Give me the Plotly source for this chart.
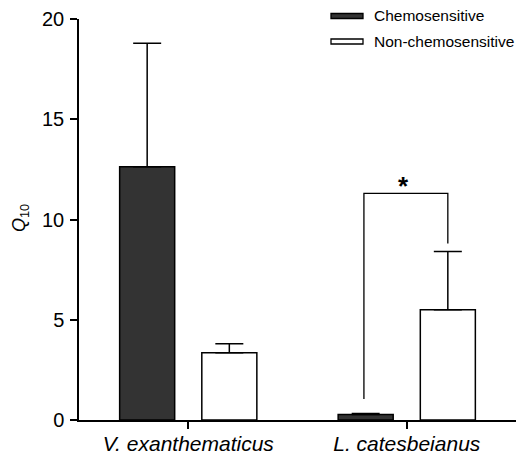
import plotly.graph_objects as go

categories = ["V. exanthematicus", "L. catesbeianus"]
series_names = ["Chemosensitive", "Non-chemosensitive"]
chemo_vals = [12.63, 0.27]
chemo_err = [6.16, 0.06]
nonchemo_vals = [3.36, 5.5]
nonchemo_err = [0.44, 2.9]
y_ticks = [0, 5, 10, 15, 20]
# significance bracket for L. catesbeianus: (left end, top, right end)
bracket_left_y = 1.05
bracket_top_y = 11.3
bracket_right_y = 8.8
bracket_label = "*"

PAGE_OFF = 8  # browser default body margin
W, H = 526 - PAGE_OFF, 455 - PAGE_OFF
# desired plot area in screen pixels: x 79..516, y 19..420
L, T = 79 - PAGE_OFF, 19 - PAGE_OFF
R = W - (516 - PAGE_OFF)
B = H - (420 - PAGE_OFF)
pw, ph = W - L - R, H - T - B

def px2paper(sx, sy):
    x = sx - PAGE_OFF
    y = sy - PAGE_OFF
    return (x - L) / pw, (H - B - y) / ph

xs = list(range(len(categories)))
fig = go.Figure()
fig.add_trace(go.Bar(
    x=xs, y=chemo_vals, name=series_names[0],
    marker=dict(color="#333333", line=dict(color="black", width=1.5)),
    error_y=dict(type="data", array=chemo_err, arrayminus=[0] * len(xs), symmetric=False,
                 color="black", thickness=1.5, width=14),
    showlegend=False,
))
fig.add_trace(go.Bar(
    x=xs, y=nonchemo_vals, name=series_names[1],
    marker=dict(color="white", line=dict(color="black", width=1.5)),
    error_y=dict(type="data", array=nonchemo_err, arrayminus=[0] * len(xs), symmetric=False,
                 color="black", thickness=1.5, width=14),
    showlegend=False,
))

# bracket
bargap, bargroupgap = 0.248, 0.33
slot = (1 - bargap) / 2
off = slot / 2
cx = xs[1]
bx_left = cx - off - 0.008
bx_right = cx + off
fig.add_trace(go.Scatter(
    x=[bx_left, bx_left, bx_right, bx_right],
    y=[bracket_left_y, bracket_top_y, bracket_top_y, bracket_right_y],
    mode="lines", line=dict(color="black", width=1.3), showlegend=False, hoverinfo="skip",
))
fig.add_annotation(x=(bx_left + bx_right) / 2, y=bracket_top_y, text=f"<b>{bracket_label}</b>",
                   showarrow=False, yanchor="bottom", yshift=-10, xshift=-2,
                   font=dict(size=26, color="black", family="Liberation Sans, Arial"))

# custom legend
shapes = []
legend_rows = [(16, "#333333"), (41.5, "white")]
for (yc, col), name in zip(legend_rows, series_names):
    x0, y0 = px2paper(331, yc - 2.5)
    x1, y1 = px2paper(363, yc + 2.5)
    shapes.append(dict(type="rect", xref="paper", yref="paper", x0=x0, x1=x1, y0=y1, y1=y0,
                       fillcolor=col, line=dict(color="black", width=1.3)))
    tx, ty = px2paper(372, yc)
    fig.add_annotation(xref="paper", yref="paper", x=tx, y=ty, text=name, showarrow=False,
                       xanchor="left", yanchor="middle",
                       font=dict(size=15.5, color="black", family="Liberation Sans, Arial"))

# y title
ax, ay = px2paper(21, 218)
fig.add_annotation(xref="paper", yref="paper", x=ax, y=ay, text="<i>Q</i><sub>10</sub>",
                   textangle=-90, showarrow=False, xanchor="center", yanchor="middle",
                   font=dict(size=18, color="black", family="Liberation Sans, Arial"))

fig.update_layout(
    width=W, height=H, margin=dict(l=L, r=R, t=T, b=B, autoexpand=False),
    autosize=False,
    paper_bgcolor="white", plot_bgcolor="white",
    barmode="group", bargap=bargap, bargroupgap=bargroupgap,
    shapes=shapes, showlegend=False,
    font=dict(family="Liberation Sans, Arial", color="black"),
    xaxis=dict(range=[-0.5, 1.5], tickvals=xs, ticktext=[f"<i>{c}</i>" for c in categories],
               showline=True, linecolor="black", linewidth=1.5, ticks="outside", ticklen=7,
               tickwidth=1.5, tickcolor="black", showgrid=False, zeroline=False, automargin=False,
               ticklabelstandoff=-3, tickfont=dict(size=21, color="black")),
    yaxis=dict(range=[0, 20], tickvals=y_ticks, showline=True, linecolor="black", linewidth=1.5,
               ticks="outside", ticklen=7, tickwidth=1.5, tickcolor="black", showgrid=False,
               zeroline=False, automargin=False, ticklabelstandoff=2,
               tickfont=dict(size=20, color="black")),
)
fig.write_html("out.html")
